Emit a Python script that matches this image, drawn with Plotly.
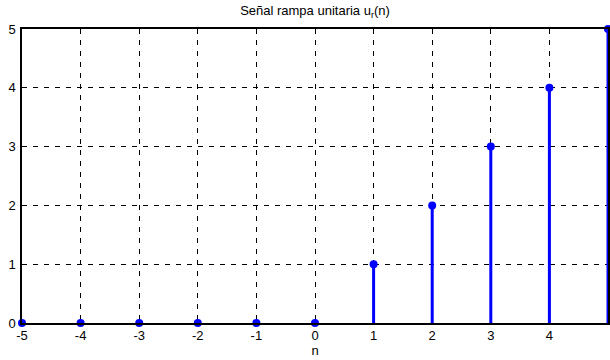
import plotly.graph_objects as go

n = [-5, -4, -3, -2, -1, 0, 1, 2, 3, 4, 5]
ur = [0, 0, 0, 0, 0, 0, 1, 2, 3, 4, 5]
xticks = [-5, -4, -3, -2, -1, 0, 1, 2, 3, 4, 5]
yticks = [0, 1, 2, 3, 4, 5]

sx, sy = [], []
for xi, yi in zip(n, ur):
    sx += [xi, xi, None]
    sy += [0, yi, None]

fig = go.Figure()
fig.add_trace(go.Scatter(x=sx, y=sy, mode="lines", line=dict(color="#0000ff", width=3),
                         hoverinfo="skip", cliponaxis=False))
fig.add_trace(go.Scatter(x=n, y=ur, mode="markers", marker=dict(color="#0000ff", size=8),
                         cliponaxis=False))

fig.update_layout(
    width=610, height=360,
    margin=dict(l=22, r=0, t=29, b=37),
    paper_bgcolor="white", plot_bgcolor="white",
    showlegend=False,
    font=dict(family="Liberation Sans, Arial", size=13, color="black"),
    title=dict(text="Señal rampa unitaria u<sub>r</sub>(n)", x=0.5, xanchor="center",
               xref="paper", y=1, yref="container", yanchor="top", pad=dict(t=6),
               font=dict(size=13)),
)
axcommon = dict(showgrid=True, gridcolor="black", gridwidth=1, griddash="5px,6px",
                showline=True, linecolor="black", linewidth=1.5, mirror=True,
                ticks="", zeroline=False, tickfont=dict(size=13))
fig.update_xaxes(range=[-5, 5], tickvals=xticks, ticktext=[str(t) for t in xticks],
                 title=dict(text="n", standoff=1, font=dict(size=13)), **axcommon)
fig.update_yaxes(range=[0, 5], tickvals=yticks, ticktext=[str(t) for t in yticks],
                 ticklabelstandoff=2, **axcommon)

fig.write_html("out.html")
